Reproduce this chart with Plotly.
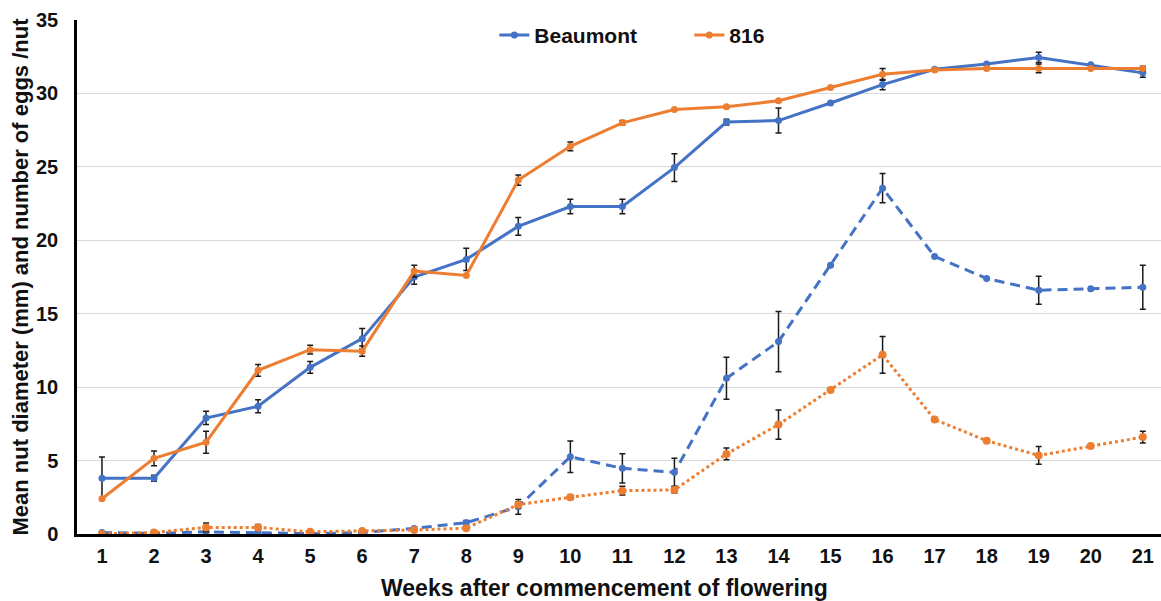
import plotly.graph_objects as go

weeks = list(range(1, 22))

# Mean nut diameter (mm)
beaumont_diam = [3.8, 3.8, 7.9, 8.7, 11.35, 13.3, 17.5, 18.7, 20.95, 22.3, 22.3,
                 24.95, 28.05, 28.15, 29.35, 30.6, 31.65, 32.0, 32.45, 31.95, 31.4]
beaumont_diam_err = [1.45, 0.2, 0.45, 0.45, 0.4, 0.7, 0.5, 0.75, 0.6, 0.5, 0.5,
                     0.95, 0.2, 0.85, 0.0, 0.35, 0.0, 0.0, 0.35, 0.0, 0.3]
c816_diam = [2.4, 5.15, 6.25, 11.15, 12.55, 12.45, 17.9, 17.6, 24.1, 26.4, 28.0,
             28.9, 29.1, 29.5, 30.4, 31.3, 31.6, 31.7, 31.7, 31.7, 31.7]
c816_diam_err = [0.0, 0.5, 0.75, 0.4, 0.3, 0.35, 0.4, 0.0, 0.35, 0.3, 0.15,
                 0.0, 0.0, 0.0, 0.0, 0.4, 0.0, 0.0, 0.3, 0.0, 0.15]

# Number of eggs per nut
beaumont_eggs = [0.1, 0.05, 0.15, 0.1, 0.02, 0.1, 0.38, 0.77, 1.85, 5.26, 4.47,
                 4.2, 10.6, 13.1, 18.3, 23.55, 18.9, 17.4, 16.6, 16.7, 16.8]
beaumont_eggs_err = [0.0, 0.0, 0.0, 0.0, 0.0, 0.0, 0.1, 0.15, 0.5, 1.07, 1.0,
                     0.95, 1.43, 2.05, 0.0, 1.0, 0.0, 0.0, 0.95, 0.0, 1.5]
c816_eggs = [0.0, 0.1, 0.45, 0.45, 0.15, 0.2, 0.27, 0.4, 2.0, 2.5, 2.95,
             3.0, 5.45, 7.45, 9.8, 12.2, 7.8, 6.35, 5.35, 6.0, 6.6]
c816_eggs_err = [0.0, 0.0, 0.3, 0.2, 0.0, 0.0, 0.0, 0.0, 0.2, 0.15, 0.3,
                 0.2, 0.4, 1.0, 0.0, 1.25, 0.0, 0.0, 0.6, 0.0, 0.4]

BLUE = "#4472C4"
ORANGE = "#ED7D31"
FONT = "Liberation Sans, Arial, sans-serif"
TEXT = "#111111"


def err(vals):
    return dict(type="data", array=vals, visible=True, color="#1a1a1a",
                thickness=1.5, width=3)


fig = go.Figure()

fig.add_trace(go.Scatter(
    x=weeks, y=beaumont_eggs, mode="lines+markers", showlegend=False,
    line=dict(color=BLUE, width=3, dash="10px,6px"), marker=dict(size=7, color=BLUE),
    error_y=err(beaumont_eggs_err)))
fig.add_trace(go.Scatter(
    x=weeks, y=c816_eggs, mode="lines+markers", showlegend=False,
    line=dict(color=ORANGE, width=3, dash="3px,3px"), marker=dict(size=8, color=ORANGE),
    error_y=err(c816_eggs_err)))
fig.add_trace(go.Scatter(
    x=weeks, y=beaumont_diam, mode="lines+markers", name="Beaumont",
    line=dict(color=BLUE, width=3), marker=dict(size=7, color=BLUE),
    error_y=err(beaumont_diam_err)))
fig.add_trace(go.Scatter(
    x=weeks, y=c816_diam, mode="lines+markers", name="816",
    line=dict(color=ORANGE, width=3), marker=dict(size=7, color=ORANGE),
    error_y=err(c816_diam_err)))

fig.update_layout(
    width=1161, height=601,
    margin=dict(l=77, r=0, t=20, b=67),
    paper_bgcolor="white", plot_bgcolor="white",
    font=dict(family=FONT, color=TEXT, size=20),
    showlegend=True,
    legend=dict(orientation="h", x=0.385, xanchor="left", y=0.97, yanchor="middle",
                font=dict(family=FONT, size=21, weight="bold", color=TEXT),
                bgcolor="rgba(0,0,0,0)", itemwidth=30, entrywidthmode="pixels",
                entrywidth=150),
    xaxis=dict(
        range=[0.52, 21.35], tickmode="array", tickvals=weeks,
        ticktext=[str(w) for w in weeks], showgrid=False, zeroline=False,
        showline=True, linecolor="black", linewidth=2.5, ticks="",
        ticklabelstandoff=2,
        tickfont=dict(family=FONT, size=20, weight="bold", color=TEXT)),
    yaxis=dict(
        range=[0, 35], tickvals=[0, 5, 10, 15, 20, 25, 30, 35],
        showgrid=True, gridcolor="#d9d9d9", gridwidth=1.2, zeroline=False,
        showline=True, linecolor="black", linewidth=2.5, ticks="",
        ticklabelstandoff=12,
        tickfont=dict(family=FONT, size=20, weight="bold", color=TEXT),
        title=dict(text="Mean nut diameter (mm) and number of eggs /nut", standoff=2,
                   font=dict(family=FONT, size=22, weight="bold", color=TEXT))),
    annotations=[dict(
        text="Weeks after commencement of flowering", xref="paper", yref="paper",
        x=0.487, y=-0.105, xanchor="center", yanchor="middle", showarrow=False,
        font=dict(family=FONT, size=23, weight="bold", color=TEXT))],
)

fig.write_html("out.html")
